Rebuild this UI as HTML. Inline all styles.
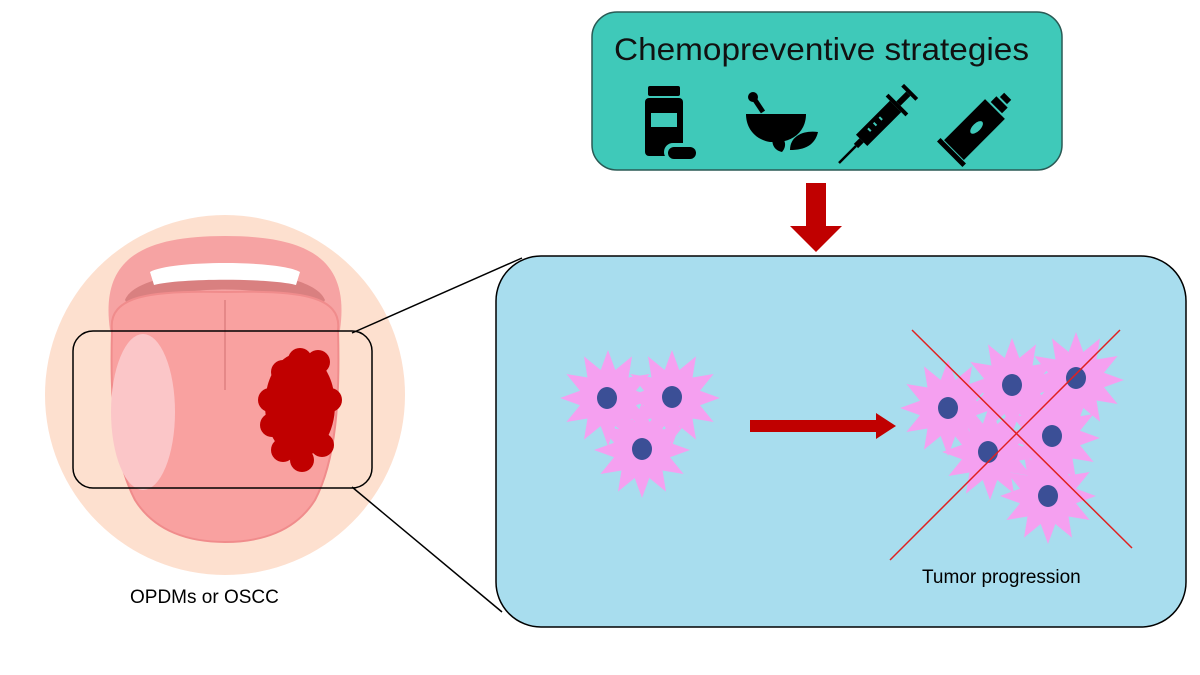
<!DOCTYPE html>
<html><head><meta charset="utf-8"><style>
html,body{margin:0;padding:0;background:#fff;}
svg{display:block;}
text{font-family:"Liberation Sans",sans-serif;}
</style></head><body>
<svg width="1200" height="675" viewBox="0 0 1200 675" xmlns="http://www.w3.org/2000/svg">
<defs>
<g id="cell">
<polygon fill="#f5a0f0" points="48,0 28,7.3 41.6,24 20.5,20.5 24,41.6 7.3,28 0,48 -7.3,28 -24,41.6 -20.5,20.5 -41.6,24 -28,7.3 -48,0 -28,-7.3 -41.6,-24 -20.5,-20.5 -24,-41.6 -7.3,-28 0,-48 7.3,-28 24,-41.6 20.5,-20.5 41.6,-24 28,-7.3"/>
</g>
<g id="nuc"><ellipse rx="10" ry="11" fill="#3b4f96"/></g>
</defs>
<rect width="1200" height="675" fill="#fff"/>
<!-- tongue illustration -->
<circle cx="225" cy="395" r="180" fill="#fde0cf"/>
<!-- lips -->
<path d="M110,330 C100,260 140,236 225,236 C310,236 350,260 340,330 Z" fill="#f6a3a3"/>
<path d="M125,300 C140,262 310,262 325,300 L318,312 C290,282 160,282 132,312 Z" fill="#d98080"/>
<path d="M150,272 C170,260 280,260 300,272 L296,285 C270,278 180,278 154,285 Z" fill="#fff"/>
<!-- tongue body -->
<path d="M112,330 C108,296 150,290 225,292 C300,290 342,296 338,330 C340,400 336,460 315,500 C295,532 260,542 225,542 C190,542 155,532 135,500 C114,460 110,400 112,330 Z" fill="#f9a1a0" stroke="#f08c8c" stroke-width="2"/>
<line x1="225" y1="300" x2="225" y2="390" stroke="#e58888" stroke-width="2"/>
<ellipse cx="143" cy="412" rx="32" ry="78" fill="#fbc6c8"/>
<g fill="#c00000">
<ellipse cx="300" cy="405" rx="35" ry="52"/>
<circle cx="283" cy="372" r="12"/><circle cx="300" cy="360" r="12"/><circle cx="318" cy="362" r="12"/>
<circle cx="270" cy="400" r="12"/><circle cx="272" cy="425" r="12"/><circle cx="283" cy="450" r="12"/>
<circle cx="302" cy="460" r="12"/><circle cx="322" cy="445" r="12"/><circle cx="330" cy="400" r="12"/>
</g>
<rect x="73" y="331" width="299" height="157" rx="20" fill="none" stroke="#000" stroke-width="1.5"/>
<line x1="352" y1="333" x2="522" y2="258" stroke="#000" stroke-width="1.5"/>
<line x1="352" y1="487" x2="502" y2="612" stroke="#000" stroke-width="1.5"/>
<text x="130" y="603" font-size="19" fill="#000">OPDMs or OSCC</text>
<!-- top box -->
<rect x="592" y="12" width="470" height="158" rx="25" fill="#3fc9b9" stroke="#2a5a55" stroke-width="1.5"/>
<text x="614" y="60" font-size="31.5" fill="#111" textLength="415" lengthAdjust="spacingAndGlyphs">Chemopreventive strategies</text>
<!-- bottle -->
<rect x="648" y="86" width="32" height="10" rx="2" fill="#000"/>
<rect x="645" y="98" width="38" height="58" rx="4" fill="#000"/>
<rect x="651" y="113" width="26" height="14" fill="#3fc9b9"/>
<rect x="664" y="143" width="34" height="18" rx="9" fill="#3fc9b9"/>
<rect x="668" y="147" width="28" height="12" rx="6" fill="#000"/>
<!-- mortar -->
<circle cx="753" cy="97" r="5" fill="#000"/>
<line x1="753" y1="97" x2="763" y2="112" stroke="#000" stroke-width="5"/>
<path d="M746,114 L806,114 C806,130 795,140 780,142 L770,142 C757,140 746,130 746,114 Z" fill="#000"/>
<path d="M790,150 C790,135 805,130 818,132 C815,145 805,150 790,150 Z" fill="#000"/>
<path d="M782,152 C772,150 770,140 775,132 C785,137 788,145 782,152 Z" fill="#000"/>
<!-- syringe -->
<g transform="translate(880,122) rotate(-45)">
<rect x="-26" y="-8" width="48" height="16" fill="#000"/>
<rect x="22" y="-14" width="4" height="28" fill="#000"/>
<rect x="26" y="-3" width="14" height="6" fill="#000"/>
<rect x="40" y="-10" width="4" height="20" fill="#000"/>
<rect x="-34" y="-3" width="8" height="6" fill="#000"/>
<line x1="-34" y1="0" x2="-58" y2="0" stroke="#000" stroke-width="2.5"/>
<rect x="-14" y="-4" width="2" height="4" fill="#3fc9b9"/><rect x="-6" y="-4" width="2" height="4" fill="#3fc9b9"/><rect x="2" y="-4" width="2" height="4" fill="#3fc9b9"/>
</g>
<!-- tube -->
<g transform="translate(978,126) rotate(-45)">
<rect x="-34" y="-14" width="58" height="28" fill="#000"/>
<rect x="-40" y="-18" width="5" height="36" fill="#000"/>
<rect x="26" y="-8" width="8" height="16" fill="#000"/>
<rect x="36" y="-5" width="6" height="10" fill="#000"/>
<ellipse cx="-2" cy="0" rx="8" ry="4" fill="#3fc9b9"/>
</g>
<!-- red down arrow -->
<rect x="806" y="183" width="20" height="43" fill="#c00000"/>
<polygon points="790,226 842,226 816,252" fill="#c00000"/>
<!-- blue box -->
<rect x="496" y="256" width="690" height="371" rx="45" fill="#a8ddee" stroke="#000" stroke-width="1.5"/>
<!-- left cells -->
<use href="#cell" x="608" y="398"/><use href="#cell" x="672" y="398"/><use href="#cell" x="642" y="450"/>
<use href="#nuc" x="607" y="398"/><use href="#nuc" x="672" y="397"/><use href="#nuc" x="642" y="449"/>
<!-- arrow -->
<rect x="750" y="420" width="128" height="12" fill="#c00000"/>
<polygon points="876,413 896,426 876,439" fill="#c00000"/>
<!-- right cells -->
<use href="#cell" x="948" y="408"/><use href="#cell" x="1012" y="386"/><use href="#cell" x="1076" y="380"/>
<use href="#cell" x="990" y="452"/><use href="#cell" x="1052" y="438"/><use href="#cell" x="1048" y="496"/>
<use href="#nuc" x="948" y="408"/><use href="#nuc" x="1012" y="385"/><use href="#nuc" x="1076" y="378"/>
<use href="#nuc" x="988" y="452"/><use href="#nuc" x="1052" y="436"/><use href="#nuc" x="1048" y="496"/>
<line x1="912" y1="330" x2="1132" y2="548" stroke="#e02020" stroke-width="1.5"/>
<line x1="1120" y1="330" x2="890" y2="560" stroke="#e02020" stroke-width="1.5"/>
<text x="922" y="583" font-size="19" fill="#000">Tumor progression</text>
</svg>
</body></html>
